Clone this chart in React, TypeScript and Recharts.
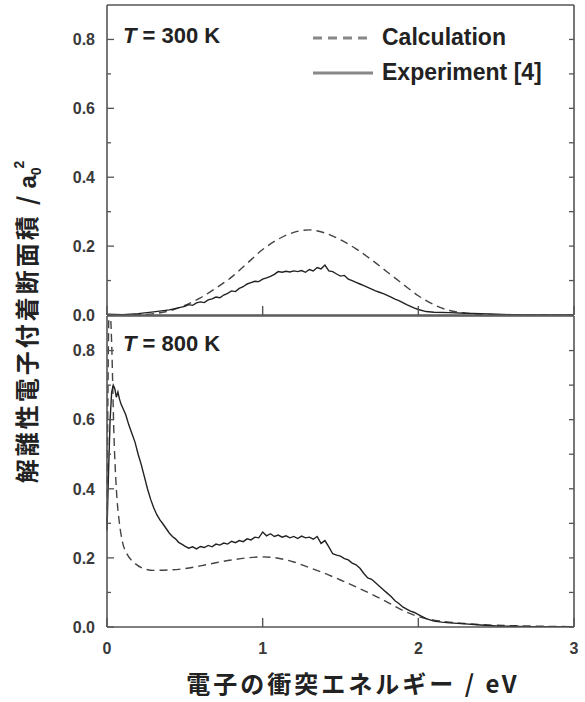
import React from "react";
import { Legend, Line, LineChart, XAxis, YAxis } from "recharts";

const CALC = "Calculation";
const EXPT = "Experiment [4]";
const X_TITLE = "電子の衝突エネルギー / eV";
const Y_TITLE = "解離性電子付着断面積 /";
const PANELS = ["300 K", "800 K"];

const xTicks = [0, 1, 2, 3];
const yTicks = [0, 0.1, 0.2, 0.3, 0.4, 0.5, 0.6, 0.7, 0.8];

// [energy eV, cross section a0^2]
const calc300: [number, number][] = [
  [0, 0], [0.2, 0.001], [0.3, 0.004], [0.4, 0.012], [0.5, 0.028], [0.6, 0.05],
  [0.7, 0.078], [0.8, 0.11], [0.9, 0.15], [1.0, 0.19], [1.1, 0.22], [1.2, 0.24],
  [1.3, 0.247], [1.4, 0.238], [1.5, 0.218], [1.6, 0.192], [1.7, 0.16], [1.8, 0.125],
  [1.9, 0.09], [2.0, 0.056], [2.1, 0.03], [2.2, 0.013], [2.3, 0.006], [2.4, 0.002],
  [2.5, 0.001], [2.6, 0], [3.0, 0],
];

const exp300: [number, number][] = [
  [0, 0.002], [0.1, 0.001], [0.2, 0.004], [0.3, 0.009], [0.35, 0.012], [0.4, 0.015],
  [0.45, 0.02], [0.5, 0.025], [0.525, 0.03], [0.55, 0.028], [0.575, 0.035], [0.6, 0.038],
  [0.625, 0.036], [0.65, 0.044], [0.675, 0.047], [0.7, 0.052], [0.725, 0.05], [0.75, 0.058],
  [0.775, 0.063], [0.8, 0.07], [0.825, 0.068], [0.85, 0.077], [0.875, 0.082], [0.9, 0.09],
  [0.925, 0.094], [0.95, 0.098], [0.975, 0.097], [1.0, 0.104], [1.025, 0.108], [1.05, 0.112],
  [1.075, 0.118], [1.1, 0.126], [1.125, 0.124], [1.15, 0.127], [1.175, 0.125], [1.2, 0.128],
  [1.225, 0.126], [1.25, 0.129], [1.275, 0.124], [1.3, 0.132], [1.325, 0.128], [1.35, 0.138],
  [1.375, 0.134], [1.4, 0.145], [1.425, 0.128], [1.45, 0.126], [1.475, 0.119], [1.5, 0.113],
  [1.525, 0.115], [1.55, 0.104], [1.575, 0.1], [1.6, 0.095], [1.625, 0.09], [1.65, 0.085],
  [1.675, 0.08], [1.7, 0.075], [1.725, 0.07], [1.75, 0.066], [1.775, 0.062], [1.8, 0.057],
  [1.825, 0.052], [1.85, 0.046], [1.875, 0.042], [1.9, 0.036], [1.925, 0.03], [1.95, 0.025],
  [1.975, 0.02], [2.0, 0.016], [2.05, 0.01], [2.1, 0.008], [2.2, 0.007], [2.3, 0.005],
  [2.4, 0.004], [2.5, 0.002], [2.6, 0.001], [2.7, 0], [3.0, 0],
];

const calc800: [number, number][] = [
  [0, 0.3], [0.015, 0.95], [0.03, 0.82], [0.045, 0.55], [0.06, 0.4], [0.08, 0.3],
  [0.1, 0.245], [0.13, 0.21], [0.17, 0.188], [0.23, 0.17], [0.3, 0.164], [0.4, 0.165],
  [0.5, 0.169], [0.6, 0.177], [0.7, 0.186], [0.8, 0.194], [0.9, 0.2], [1.0, 0.203],
  [1.1, 0.199], [1.2, 0.188], [1.3, 0.172], [1.4, 0.155], [1.5, 0.136], [1.6, 0.116],
  [1.7, 0.095], [1.8, 0.072], [1.9, 0.048], [2.0, 0.03], [2.1, 0.02], [2.2, 0.014],
  [2.3, 0.01], [2.4, 0.007], [2.5, 0.005], [2.6, 0.004], [2.7, 0.003], [2.8, 0.002],
  [3.0, 0.001],
];

const exp800: [number, number][] = [
  [0, 0.28], [0.01, 0.45], [0.02, 0.6], [0.03, 0.68], [0.04, 0.7], [0.05, 0.69],
  [0.06, 0.665], [0.07, 0.68], [0.08, 0.66], [0.09, 0.645], [0.1, 0.635], [0.12, 0.615],
  [0.14, 0.585], [0.16, 0.56], [0.18, 0.535], [0.2, 0.5], [0.22, 0.47], [0.24, 0.435],
  [0.26, 0.4], [0.28, 0.37], [0.3, 0.345], [0.32, 0.325], [0.34, 0.31], [0.36, 0.298],
  [0.38, 0.285], [0.4, 0.272], [0.42, 0.262], [0.44, 0.255], [0.46, 0.245], [0.48, 0.24],
  [0.5, 0.234], [0.525, 0.228], [0.55, 0.232], [0.575, 0.226], [0.6, 0.233], [0.625, 0.23],
  [0.65, 0.236], [0.675, 0.232], [0.7, 0.24], [0.725, 0.237], [0.75, 0.243], [0.775, 0.24],
  [0.8, 0.248], [0.825, 0.244], [0.85, 0.25], [0.875, 0.247], [0.9, 0.255], [0.925, 0.252],
  [0.95, 0.26], [0.975, 0.258], [1.0, 0.275], [1.025, 0.264], [1.05, 0.27], [1.075, 0.262],
  [1.1, 0.266], [1.125, 0.26], [1.15, 0.264], [1.175, 0.258], [1.2, 0.262], [1.225, 0.256],
  [1.25, 0.263], [1.275, 0.258], [1.3, 0.26], [1.325, 0.254], [1.35, 0.262], [1.375, 0.242],
  [1.4, 0.25], [1.425, 0.232], [1.45, 0.212], [1.475, 0.208], [1.5, 0.205], [1.525, 0.198],
  [1.55, 0.194], [1.575, 0.185], [1.6, 0.18], [1.625, 0.17], [1.65, 0.155], [1.675, 0.142],
  [1.7, 0.138], [1.725, 0.128], [1.75, 0.118], [1.775, 0.108], [1.8, 0.098], [1.825, 0.088],
  [1.85, 0.076], [1.875, 0.068], [1.9, 0.058], [1.925, 0.052], [1.95, 0.046], [1.975, 0.042],
  [2.0, 0.036], [2.05, 0.024], [2.1, 0.017], [2.15, 0.014], [2.2, 0.012], [2.3, 0.009],
  [2.4, 0.006], [2.5, 0.003], [2.6, 0.002], [2.7, 0.001], [2.8, 0.001], [3.0, 0],
];

const SANS = "'Liberation Sans', Arial, sans-serif";
const JP = "'Noto Sans CJK JP', sans-serif";
const INK = "#3a3a3a";
const FRAME = { stroke: "#555", strokeWidth: 1.6 };

const pts = (arr: [number, number][]) => arr.map(([x, y]) => ({ x, y }));

const isMajor = (v: number) => Math.round(v * 10) % 2 === 0;

// left axis: tickSize 0, tickMargin 12 -> axis line sits at x + 12
function LeftTick({ x, y, payload }: any) {
  const ax = x + 12;
  const major = isMajor(payload.value);
  return (
    <g>
      <line x1={ax} x2={ax + (major ? 7 : 4)} y1={y} y2={y} stroke="#555" strokeWidth={1.3} />
      {major && (
        <text x={x} y={y} dy="0.36em" textAnchor="end" fontFamily={SANS} fontWeight={700} fontSize={16} fill={INK}>
          {payload.value.toFixed(1)}
        </text>
      )}
    </g>
  );
}

function RightTick({ x, y }: any) {
  return <line x1={x} x2={x - 5} y1={y} y2={y} stroke="#555" strokeWidth={1.3} />;
}

function TopTick({ x, y }: any) {
  return <line x1={x} x2={x} y1={y} y2={y + 9} stroke="#555" strokeWidth={1.4} />;
}

function BottomTick({ x, y, payload, showLabel }: any) {
  return (
    <g>
      <line x1={x} x2={x} y1={y} y2={y - 9} stroke="#555" strokeWidth={1.4} />
      {showLabel && (
        <text x={x} y={y + 21} dy="0.36em" textAnchor="middle" fontFamily={SANS} fontWeight={700} fontSize={16} fill={INK}>
          {payload.value}
        </text>
      )}
    </g>
  );
}

function LegendBox({ payload }: any) {
  return (
    <div style={{ fontFamily: SANS, fontWeight: 700, fontSize: 23, color: "#222" }}>
      {(payload || []).map((p: any) => (
        <div key={p.value} style={{ display: "flex", alignItems: "center", height: 35 }}>
          <svg width={62} height={6}>
            <line
              x1={0}
              x2={60}
              y1={3}
              y2={3}
              stroke="#888"
              strokeWidth={3}
              strokeDasharray={p.value === CALC ? "9 6" : undefined}
            />
          </svg>
          <span style={{ marginLeft: 7 }}>{p.value}</span>
        </div>
      ))}
    </div>
  );
}

function Panel({
  calc,
  exp,
  height,
  bottomHeight,
  labels,
  legend,
}: {
  calc: { x: number; y: number }[];
  exp: { x: number; y: number }[];
  height: number;
  bottomHeight: number;
  labels: boolean;
  legend: boolean;
}) {
  return (
    <LineChart width={585} height={height} margin={{ top: 0, right: 0, bottom: 0, left: 0 }}>
      <XAxis
        dataKey="x"
        type="number"
        domain={[0, 3]}
        ticks={xTicks}
        height={bottomHeight}
        tickSize={0}
        tickMargin={0}
        tickLine={false}
        axisLine={FRAME}
        tick={<BottomTick showLabel={labels} />}
        interval={0}
      />
      <XAxis
        xAxisId="top"
        orientation="top"
        dataKey="x"
        type="number"
        domain={[0, 3]}
        ticks={xTicks}
        height={5}
        tickSize={0}
        tickMargin={0}
        tickLine={false}
        axisLine={FRAME}
        tick={<TopTick />}
        interval={0}
      />
      <YAxis
        type="number"
        domain={[0, 0.9]}
        ticks={yTicks}
        width={107}
        tickSize={0}
        tickMargin={12}
        tickLine={false}
        axisLine={FRAME}
        tick={<LeftTick />}
        interval={0}
        allowDataOverflow
      />
      <YAxis
        yAxisId="right"
        orientation="right"
        type="number"
        domain={[0, 0.9]}
        ticks={yTicks}
        width={11}
        tickSize={0}
        tickMargin={0}
        tickLine={false}
        axisLine={FRAME}
        tick={<RightTick />}
        interval={0}
        allowDataOverflow
      />
      {legend && (
        <Legend
          layout="vertical"
          align="center"
          verticalAlign="middle"
          content={<LegendBox />}
          wrapperStyle={{ left: 313, top: 20, width: 260, height: 72 }}
        />
      )}
      <Line
        data={calc}
        dataKey="y"
        name={CALC}
        type="monotone"
        stroke="#444"
        strokeWidth={1.4}
        strokeDasharray="8 5"
        dot={false}
        isAnimationActive={false}
      />
      <Line
        data={exp}
        dataKey="y"
        name={EXPT}
        type="linear"
        stroke="#222"
        strokeWidth={1.4}
        dot={false}
        isAnimationActive={false}
      />
    </LineChart>
  );
}

export default function App() {
  return (
    <div style={{ position: "absolute", left: 0, top: 0, width: 585, height: 702, background: "#fff" }}>
      <div style={{ position: "absolute", left: 0, top: 0 }}>
        <Panel calc={pts(calc300)} exp={pts(exp300)} height={330} bottomHeight={15} labels={false} legend />
      </div>
      <div style={{ position: "absolute", left: 0, top: 311 }}>
        <Panel calc={pts(calc800)} exp={pts(exp800)} height={391} bottomHeight={75} labels legend={false} />
      </div>
      <svg
        width={585}
        height={702}
        style={{ position: "absolute", left: 0, top: 0, pointerEvents: "none" }}
      >
        {PANELS.map((t, i) => (
          <text
            key={t}
            x={123}
            y={i === 0 ? 35 : 343}
            dy="0.36em"
            fontFamily={SANS}
            fontWeight={700}
            fontSize={22}
            fill="#222"
          >
            <tspan fontStyle="italic">T</tspan> = {t}
          </text>
        ))}
        <text
          x={27}
          y={322}
          transform="rotate(-90 27 322)"
          dy="0.36em"
          textAnchor="middle"
          fontFamily={JP}
          fontWeight={700}
          fontSize={24}
          fill="#222"
        >
          <tspan letterSpacing={3}>{Y_TITLE}</tspan>
          <tspan fontFamily={SANS} letterSpacing={0} dx={4}>a</tspan>
          <tspan fontFamily={SANS} fontSize={14} letterSpacing={0} dy={5}>0</tspan>
          <tspan fontFamily={SANS} fontSize={14} letterSpacing={0} dx={-1} dy={-17}>2</tspan>
        </text>
        <text
          x={353}
          y={684}
          dy="0.36em"
          textAnchor="middle"
          fontFamily={JP}
          fontWeight={700}
          fontSize={24}
          letterSpacing={3}
          fill="#222"
        >
          {X_TITLE}
        </text>
      </svg>
    </div>
  );
}
